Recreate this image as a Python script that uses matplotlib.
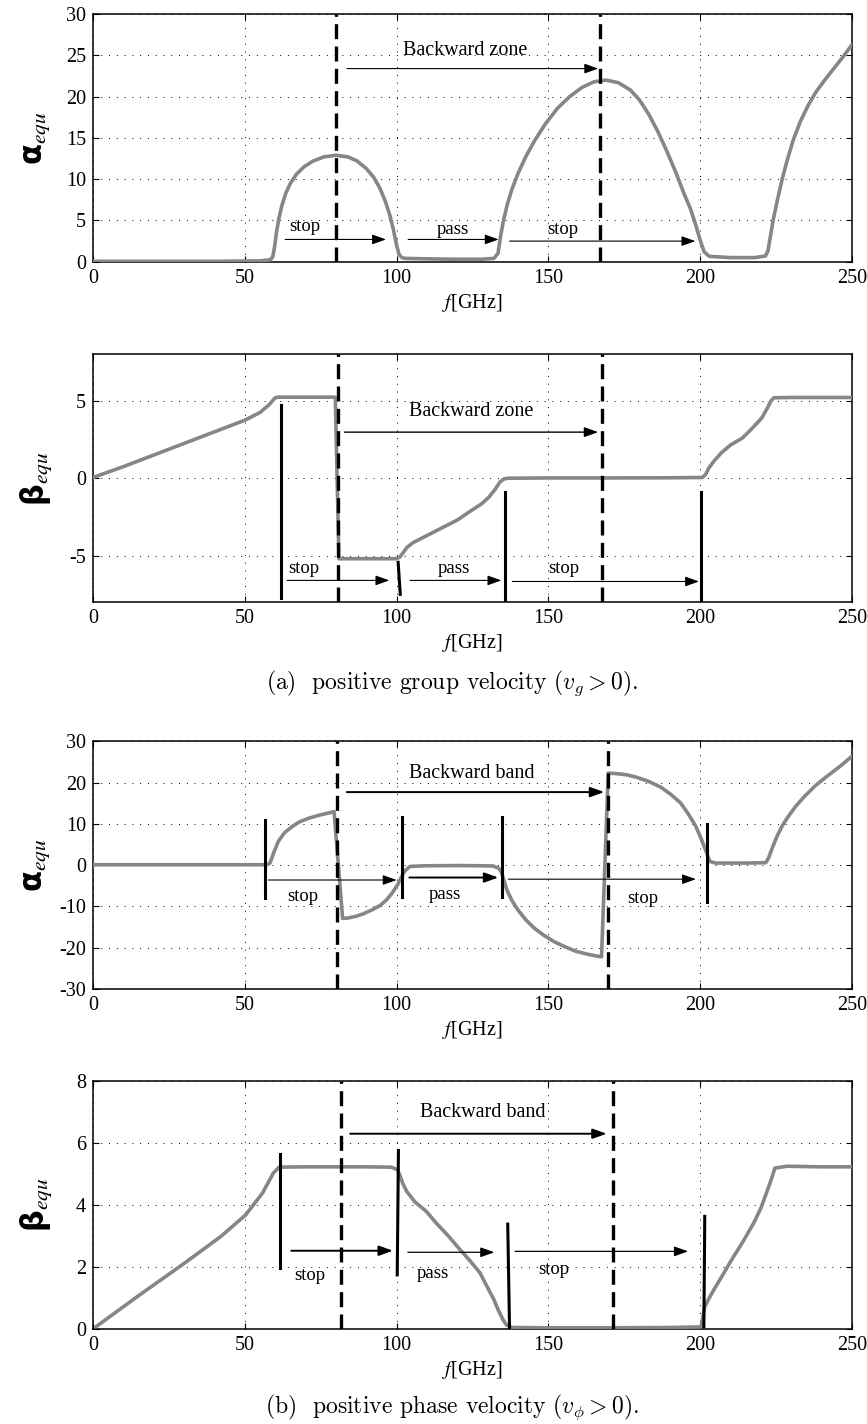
import matplotlib
matplotlib.use('Agg')
import matplotlib.pyplot as plt

plt.rcParams['font.family'] = ['Liberation Serif', 'DejaVu Serif']
plt.rcParams['axes.unicode_minus'] = False
plt.rcParams['mathtext.fontset'] = 'stix'

# ---- panel (a) top: alpha, positive group velocity
f_a1 = [0, 20, 40, 55, 58.5, 59.2, 59.8, 60.4, 61.2, 62.2, 63.5, 65, 67, 69.5, 72.5, 76, 80,
        84, 87, 90, 92.5, 94.5, 96.3, 97.8, 99, 100, 100.8, 101.7, 103, 110, 120,
        128, 132, 133.4, 134.2, 135.2, 136.5, 138, 140, 142.5, 145.5, 149, 153, 157, 161,
        165, 169, 173, 177, 180, 183, 186, 189, 192, 194.5, 196.8, 198.5, 200, 201.3, 203,
        210, 218, 221.5, 222.3, 223, 224, 225.5, 227, 228.8, 230.7, 233, 235.5, 238, 241,
        244, 247, 250]
a_a1 = [0.05, 0.05, 0.05, 0.1, 0.25, 0.6, 1.8, 3.5, 5.2, 6.8, 8.3, 9.5, 10.6, 11.5, 12.2, 12.7, 12.9,
        12.7, 12.2, 11.3, 10.2, 8.9, 7.3, 5.6, 3.8, 2.0, 0.9, 0.5, 0.4, 0.35, 0.3,
        0.3, 0.4, 1.0, 3.0, 5.0, 7.0, 8.8, 10.7, 12.7, 14.7, 16.7, 18.6, 20.0, 21.1,
        21.8, 22.0, 21.7, 20.8, 19.6, 17.9, 15.8, 13.4, 10.8, 8.4, 6.4, 4.5, 2.6, 1.2, 0.65,
        0.5, 0.5, 0.7, 1.3, 2.8, 5.0, 7.6, 10.0, 12.5, 14.8, 17.0, 18.9, 20.5, 22.0,
        23.4, 24.8, 26.3]

# ---- panel (a) bottom: beta, positive group velocity
f_b1 = [0, 10, 20, 30, 40, 50, 55, 58, 60, 61, 70, 79.8, 81, 90, 99.8, 101, 102, 103.5,
        105.5, 108, 111.5, 115, 120, 124.5, 128, 130.5, 132.5, 134, 135.3, 136.5, 150, 170,
        190, 200.7, 201.8, 202.8, 204.7, 207, 210, 213.9, 217, 220.3, 222.3, 223.3, 224.3,
        230, 240, 250]
b_b1 = [0.05, 0.75, 1.5, 2.25, 3.0, 3.75, 4.25, 4.75, 5.2, 5.24, 5.24, 5.24, -5.2, -5.2, -5.2, -5.1, -4.85, -4.45,
        -4.15, -3.9, -3.55, -3.2, -2.7, -2.1, -1.65, -1.2, -0.7, -0.25, -0.05, 0.0, 0.02, 0.02,
        0.03, 0.05, 0.25, 0.65, 1.15, 1.65, 2.15, 2.6, 3.2, 3.9, 4.6, 5.0, 5.2,
        5.22, 5.22, 5.22]

# ---- panel (b) top: alpha, positive phase velocity
f_a2 = [0, 30, 56.5, 57.5, 58.3, 59.5, 61, 63, 65.7, 68, 71.2, 75, 78.5, 79.4, 82.2, 84,
        86.6, 89, 92, 94.5, 96.7, 98.5, 100.3, 101.5, 102.6, 104.4, 110, 120, 128, 131.7,
        133.5, 134.4, 135.3, 136.3, 138, 139.9, 142.5, 145.4, 148.5, 151.8, 155.5, 159.2,
        163, 166.5, 167.5, 169.7, 172, 175.7, 179, 183, 187, 190.4, 193.5, 195.9, 198.5,
        200.5, 202, 203.2, 205, 215, 221.6, 222.5, 223.8, 225.3, 227, 229, 231.5, 234.4,
        238, 241.7, 246, 250]
a_a2 = [0.1, 0.1, 0.1, 0.2, 0.5, 3.0, 5.7, 7.8, 9.4, 10.5, 11.4, 12.2, 12.8, 13.0, -12.9, -12.8,
        -12.4, -11.8, -10.8, -9.8, -8.4, -6.8, -4.8, -3.0, -1.5, -0.3, -0.15, -0.1, -0.15, -0.2,
        -0.7, -1.5, -3.5, -6.0, -8.6, -10.8, -13.2, -15.3, -17.0, -18.5, -19.8, -20.9,
        -21.6, -22.1, -22.2, 22.3, 22.2, 21.9, 21.3, 20.3, 18.9, 17.1, 15.1, 12.6, 9.5,
        6.1, 3.2, 0.9, 0.5, 0.5, 0.6, 1.7, 4.3, 7.0, 9.5, 11.8, 14.3, 16.7,
        19.3, 21.5, 23.9, 26.4]

# ---- panel (b) bottom: beta, positive phase velocity
f_b2 = [0.9, 14.6, 29.3, 42.1, 50.3, 55.8, 59.4, 61.3, 70, 80, 90, 98.2, 100.2, 101,
        102, 103.3, 106, 109.7, 113, 117, 120.5, 124.4, 127.5, 129.8, 132, 133.5, 135, 136.2,
        138, 150, 170, 190, 200.3, 201.5, 203, 204.8, 207.5, 210.3, 214, 217.6, 220,
        222.2, 223.5, 224.6, 228.6, 240, 250]
b_b2 = [0.06, 1.04, 2.06, 2.98, 3.68, 4.38, 5.03, 5.22, 5.23, 5.23, 5.23, 5.22, 5.14, 4.98,
        4.7, 4.44, 4.1, 3.8, 3.42, 3.0, 2.6, 2.17, 1.8, 1.36, 0.95, 0.6, 0.3, 0.12,
        0.04, 0.03, 0.03, 0.04, 0.06, 0.71, 1.0, 1.31, 1.75, 2.22, 2.8, 3.41, 3.9,
        4.49, 4.85, 5.19, 5.25, 5.23, 5.23]

# band edge markers (x_top, y_top, x_bottom, y_bottom)
edges_b1 = [(61.9, 4.76, 61.9, -7.75), (100.5, -5.43, 101.2, -7.5),
            (135.8, -0.92, 135.8, -8), (200.4, -0.88, 200.4, -8)]
edges_a2 = [(56.5, 11, 56.5, -8), (101.8, 11.6, 101.8, -7.6),
            (134.8, 11.6, 134.8, -7.6), (202.3, 10, 202.3, -9)]
edges_b2 = [(61.6, 5.65, 61.6, 1.95), (100.6, 5.76, 100.2, 1.74),
            (136.6, 3.38, 137.2, -0.02), (201.5, 3.63, 201.2, 0.06)]

# dashed backward-zone limits
dash_a1 = [80.1, 167.0]
dash_b1 = [80.7, 167.7]
dash_a2 = [80.3, 169.7]
dash_b2 = [81.7, 171.4]

# arrows (x_start, x_end, y)
arrows_a1 = [(83.6, 166.4, 23.4), (63.3, 96.5, 2.7), (103.8, 133.6, 2.7), (137.2, 198.4, 2.5)]
arrows_b1 = [(82.8, 166.4, 2.98), (63.9, 97.6, -6.6), (104.4, 134.5, -6.6), (138.1, 199.6, -6.67)]
arrows_a2 = [(83.6, 168.4, 17.7), (57.8, 100.0, -3.6), (104.2, 133.5, -3.0), (136.8, 198.6, -3.4)]
arrows_b2 = [(84.7, 169.2, 6.3), (65.3, 98.8, 2.52), (103.7, 132.2, 2.47), (139.0, 196.0, 2.5)]
arrow_lw_a1 = [0.8, 0.8, 0.8, 0.8]
arrow_lw_b1 = [1.0, 0.8, 0.8, 0.8]
arrow_lw_a2 = [1.4, 0.8, 1.4, 0.8]
arrow_lw_b2 = [1.4, 1.4, 0.9, 0.9]

# text labels (text, x, y)
labels_a1 = [('Backward zone', 122.6, 25.6), ('stop', 69.7, 4.3), ('pass', 118.4, 3.9), ('stop', 154.6, 3.9)]
labels_b1 = [('Backward zone', 124.5, 4.33), ('stop', 69.3, -5.86), ('pass', 119.0, -5.86), ('stop', 155.0, -5.86)]
labels_a2 = [('Backward band', 124.7, 22.3), ('stop', 69.0, -7.6), ('pass', 115.9, -7.0), ('stop', 181.2, -8.2)]
labels_b2 = [('Backward band', 128.4, 6.98), ('stop', 71.3, 1.71), ('pass', 111.9, 1.79), ('stop', 151.8, 1.9)]

xticks = [0, 50, 100, 150, 200, 250]
yticks_a1 = [0, 5, 10, 15, 20, 25, 30]
yticks_b1 = [-5, 0, 5]
yticks_a2 = [-30, -20, -10, 0, 10, 20, 30]
yticks_b2 = [0, 2, 4, 6, 8]

GRAY = '#868686'

fig = plt.figure(figsize=(8.67, 14.24), dpi=100)


def panel(rect, f, y, ylim, yticks, ylab, edges, dashx, arrows, arrow_lw, labels):
    ax = fig.add_axes(rect)
    ax.set_xlim(0, 250)
    ax.set_ylim(*ylim)
    ax.set_xticks(xticks)
    ax.set_yticks(yticks)
    ax.grid(True, color='k', linestyle=(0, (1, 7)), linewidth=0.7)
    ax.tick_params(direction='in', top=True, right=True, length=4, width=0.8,
                   labelsize=14.5, pad=5)
    for s in ax.spines.values():
        s.set_linewidth(1.1)
    ax.plot(f, y, color=GRAY, lw=2.6, solid_joinstyle='round', solid_capstyle='round', zorder=3)
    for x in dashx:
        ax.axvline(x, color='k', lw=2.4, linestyle=(0, (4.5, 2.2)), zorder=4)
    for (x0, y0, x1, y1) in edges:
        ax.plot([x0, x1], [y0, y1], color='k', lw=2.2, zorder=5)
    for (x0, x1, yy), lw in zip(arrows, arrow_lw):
        ax.annotate('', xy=(x1, yy), xytext=(x0, yy),
                    arrowprops=dict(arrowstyle='-|>,head_length=0.7,head_width=0.25',
                                    color='k', lw=lw, mutation_scale=12,
                                    shrinkA=0, shrinkB=0), zorder=6)
    for i, (t, x, yy) in enumerate(labels):
        ax.text(x, yy, t, ha='center', va='center',
                fontsize=14.5 if i == 0 else 13.5, zorder=6)
    ax.set_xlabel('$f$[GHz]', fontsize=14.5, va='center')
    ax.xaxis.set_label_coords(0.5, -0.166)
    ax.set_ylabel(ylab + '$_{equ}$', fontsize=22, va='center',
                  family=['DejaVu Sans'], fontweight='bold')
    ax.yaxis.set_label_coords(-0.074, 0.5)
    return ax


L, W, H = 0.1073, 0.8754, 0.1739
panel([L, 0.8162, W, H], f_a1, a_a1, (0, 30), yticks_a1, 'α',
      [], dash_a1, arrows_a1, arrow_lw_a1, labels_a1)
panel([L, 0.5772, W, H], f_b1, b_b1, (-8, 8), yticks_b1, 'β',
      edges_b1, dash_b1, arrows_b1, arrow_lw_b1, labels_b1)
panel([L, 0.3055, W, H], f_a2, a_a2, (-30, 30), yticks_a2, 'α',
      edges_a2, dash_a2, arrows_a2, arrow_lw_a2, labels_a2)
panel([L, 0.0669, W, H], f_b2, b_b2, (0, 8), yticks_b2, 'β',
      edges_b2, dash_b2, arrows_b2, arrow_lw_b2, labels_b2)

fig.text(0.521, 0.5204, r'(a)  positive group velocity ($v_g > 0$).', ha='center', va='center',
         fontsize=17, family='cmr10', math_fontfamily='cm')
fig.text(0.521, 0.0119, r'(b)  positive phase velocity ($v_\phi > 0$).', ha='center', va='center',
         fontsize=17, family='cmr10', math_fontfamily='cm')

fig.savefig('out.png', dpi=100)
